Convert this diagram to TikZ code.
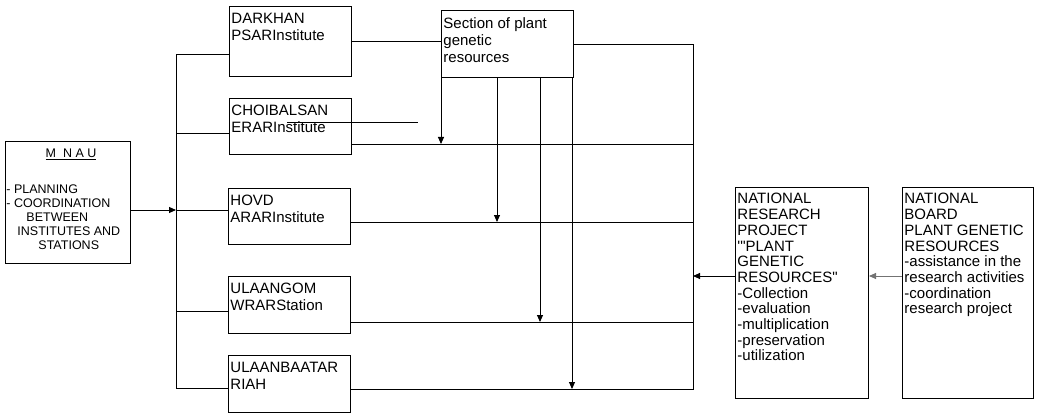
\documentclass[tikz,border=0pt]{standalone}
\usepackage{fontspec}
\setmainfont{Liberation Sans}
\usetikzlibrary{arrows.meta}

\tikzset{
  box/.style={draw, line width=1pt, anchor=north west, inner sep=0pt},
  txt/.style={anchor=north west, align=left, inner xsep=2pt, inner ysep=7pt, font=\fontsize{15}{17}\selectfont},
  ntxt/.style={txt, inner ysep=6pt, font=\fontsize{15}{15.7}\selectfont},
  mtxt/.style={anchor=north west, align=left, inner sep=0pt, font=\fontsize{12.5}{14}\selectfont},
  arr/.style={-{Triangle[length=7pt,width=6pt]}},
}

\begin{document}
\begin{tikzpicture}[x=1pt, y=-1pt, line width=0.9pt]
  \useasboundingbox (0,0) rectangle (1038,414);
  % boxes
  \node[box, minimum width=125pt, minimum height=122pt] (mnau) at (5,141) {};
  \node[box, minimum width=122pt, minimum height=70pt] (dark) at (229,6) {};
  \node[box, minimum width=122pt, minimum height=56pt] (choi) at (229,98) {};
  \node[box, minimum width=122pt, minimum height=56pt] (hovd) at (228,188) {};
  \node[box, minimum width=122pt, minimum height=57pt] (ulg) at (228,276) {};
  \node[box, minimum width=122pt, minimum height=57pt] (ulb) at (228,355) {};
  \node[box, minimum width=132pt, minimum height=67pt] (sec) at (441,10) {};
  \node[box, minimum width=133pt, minimum height=211pt] (nrp) at (735,187) {};
  \node[box, minimum width=131pt, minimum height=211pt] (board) at (902,187) {};
  % texts
  \node[mtxt, anchor=base, font=\fontsize{12.5}{14}\selectfont] (mnau-h) at ([xshift=3pt, yshift=-17pt]mnau.north) {\underline{M\ \ N A U}};
  \node[mtxt] (mnau-t) at ([shift={(1,43)}]mnau.north west) {- PLANNING\\- COORDINATION\\\hspace*{20pt}BETWEEN\\\hspace*{11pt}INSTITUTES AND\\\hspace*{32pt}STATIONS};
  \node[txt] (dark-t) at (dark.north west) {DARKHAN\\PSARInstitute};
  \node[txt] (choi-t) at (choi.north west) {CHOIBALSAN\\ERARInstitute};
  \node[txt] (hovd-t) at (hovd.north west) {HOVD\\ARARInstitute};
  \node[txt] (ulg-t) at (ulg.north west) {ULAANGOM\\WRARStation};
  \node[txt] (ulb-t) at (ulb.north west) {ULAANBAATAR\\RIAH};
  \node[txt] (sec-t) at (sec.north west) {Section of plant\\genetic\\resources};
  \node[ntxt] (nrp-t) at (nrp.north west) {NATIONAL\\RESEARCH\\PROJECT\\\textquotesingle\textquotedbl PLANT\\GENETIC\\RESOURCES\textquotedbl\\-Collection\\-evaluation\\-multiplication\\-preservation\\-utilization};
  \node[ntxt] (board-t) at (board.north west) {NATIONAL\\BOARD\\PLANT GENETIC\\RESOURCES\\-assistance in the\\research activities\\-coordination\\research project};
  % left bus
  \coordinate (bt) at (176,54);
  \coordinate (b1) at (176,133);
  \coordinate (bm) at (176,210);
  \coordinate (b3) at (176,311);
  \coordinate (bb) at (176,388);
  \draw (dark.west |- bt) -- (bt) -- (bb) -- (ulb.west |- bb);
  \draw (b1) -- (choi.west |- b1);
  \draw (bm) -- (hovd.west |- bm);
  \draw (b3) -- (ulg.west |- b3);
  \draw[arr] (mnau.east |- bm) -- (bm);
  % right rail
  \coordinate (r1) at (693,144);
  \coordinate (r2) at (693,222);
  \coordinate (r3) at (693,322);
  \coordinate (r4) at (693,389);
  \coordinate (rn) at (693,276);
  \draw (dark.east) -- (dark.east -| sec.west);
  \draw (sec.east) -| (r4) -- (ulb.east |- r4);
  \draw (choi.east |- r1) -- (r1);
  \draw (hovd.east |- r2) -- (r2);
  \draw (ulg.east |- r3) -- (r3);
  \draw (287,122) -- (418,122);
  % section outputs
  \foreach \dx/\r [count=\i] in {0/r1, 56/r2, 99/r3, 131/r4} {
    \coordinate (s\i) at ([xshift=\dx pt]sec.south west);
    \draw[arr] (s\i) -- (s\i |- \r);
  }
  \draw[arr] (nrp.west |- rn) -- (rn);
  \draw[arr, black!55] (board.west |- rn) -- (nrp.east |- rn);
\end{tikzpicture}
\end{document}
